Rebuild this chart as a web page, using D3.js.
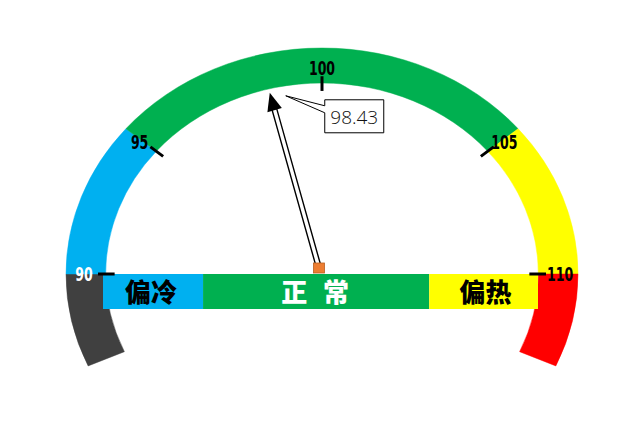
<!DOCTYPE html>
<html>
<head>
<meta charset="utf-8">
<script src="https://cdn.jsdelivr.net/npm/d3@7"></script>
<style>
  html, body { margin: 0; padding: 0; background: #fff; }
  svg { display: block; }
</style>
</head>
<body>
<div id="chart"></div>
<script>
// gauge data
const zoneBreaks = [87, 90, 95, 105, 110, 113];
const zoneColors = ['#404040', '#00B0F0', '#00B050', '#FFFF00', '#FF0000'];
const zoneAngles = [-24, 0, 40, 140, 180, 204];   // degrees from the left horizontal
const tickValues = [90, 95, 100, 105, 110];
const tickColors = ['#fff', '#000', '#000', '#000', '#000'];
const bandLabels = ['偏冷', '正 常', '偏热'];
const bandShares = [23, 52, 25];
const bandColors = ['#00B0F0', '#00B050', '#FFFF00'];
const bandTextColors = ['#000', '#fff', '#000'];
const currentValue = 98.43;

const width = 625, height = 443;
const cx = 322, cy = 274, rx = 256, ry = 226;
const innerRatio = 0.845;

const svg = d3.select('#chart').append('svg')
    .attr('width', width)
    .attr('height', height)
    .attr('viewBox', `0 0 ${width} ${height}`);

const angle = d3.scaleLinear().domain(zoneBreaks).range(zoneAngles);
const rad = deg => deg * Math.PI / 180;

// point on the (squashed) gauge ellipse
const ellipsePoint = (v, r) => {
    const t = rad(angle(v));
    return [cx - r * rx * Math.cos(t), cy - r * ry * Math.sin(t)];
};

// coloured zones
const zones = zoneColors.map((c, i) => ({ from: zoneBreaks[i], to: zoneBreaks[i + 1], color: c }));
const arc = d3.arc()
    .innerRadius(rx * innerRatio)
    .outerRadius(rx)
    .startAngle(d => rad(angle(d.from) - 90))
    .endAngle(d => rad(angle(d.to) - 90));

svg.append('g')
    .attr('transform', `translate(${cx},${cy}) scale(1,${ry / rx})`)
    .selectAll('path')
    .data(zones)
    .enter().append('path')
    .attr('d', arc)
    .attr('fill', d => d.color)
    .attr('stroke', d => d.color)
    .attr('stroke-width', 0.5);

// band under the gauge
const bandX = d3.scaleLinear().domain([0, d3.sum(bandShares)]).range([103, 538]);
const bandData = bandShares.map((s, i) => ({
    start: d3.sum(bandShares.slice(0, i)),
    end: d3.sum(bandShares.slice(0, i + 1)),
    label: bandLabels[i], color: bandColors[i], text: bandTextColors[i]
}));
const bandTop = cy, bandH = 35;
const band = svg.append('g');
band.selectAll('rect')
    .data(bandData)
    .enter().append('rect')
    .attr('x', d => bandX(d.start))
    .attr('y', bandTop)
    .attr('width', d => bandX(d.end) - bandX(d.start))
    .attr('height', bandH)
    .attr('fill', d => d.color);
// label offsets from the middle of each band piece
const bandTextShift = [-2, -1, 2];
band.selectAll('text')
    .data(bandData)
    .enter().append('text')
    .attr('x', (d, i) => (bandX(d.start) + bandX(d.end)) / 2 + bandTextShift[i])
    .attr('y', bandTop + bandH / 2 + 1)
    .attr('dy', '0.36em')
    .attr('text-anchor', 'middle')
    .attr('font-family', '"Noto Sans CJK SC", sans-serif')
    .attr('font-weight', 900)
    .attr('font-size', 26)
    .attr('word-spacing', 10)
    .style('white-space', 'pre')
    .attr('fill', d => d.text)
    .text(d => d.label);

// ticks and tick labels
const ticks = svg.append('g');
ticks.selectAll('line')
    .data(tickValues)
    .enter().append('line')
    .attr('x1', d => ellipsePoint(d, 0.81)[0])
    .attr('y1', d => ellipsePoint(d, 0.81)[1])
    .attr('x2', d => ellipsePoint(d, 0.875)[0])
    .attr('y2', d => ellipsePoint(d, 0.875)[1])
    .attr('stroke', '#000')
    .attr('stroke-width', 3);
ticks.selectAll('text')
    .data(tickValues)
    .enter().append('text')
    .attr('transform', d => `translate(${ellipsePoint(d, 0.93)[0]},${ellipsePoint(d, 0.91)[1]}) scale(0.66,1)`)
    .attr('dy', '0.36em')
    .attr('text-anchor', 'middle')
    .attr('font-family', '"DejaVu Sans", sans-serif')
    .attr('font-weight', 'bold')
    .attr('font-size', 19)
    .attr('fill', (d, i) => tickColors[i])
    .text(d => d);

// needle
const pivot = [319, 268];
const needleLen = 182, headLen = 18, headHalf = 7.5, shaftHalf = 2.4;
const theta = angle(currentValue);
const needle = svg.append('g')
    .attr('transform', `translate(${pivot[0]},${pivot[1]}) rotate(${theta + 180})`);
needle.append('path')
    .attr('d', `M0,${-shaftHalf}H${needleLen - headLen + 1}V${shaftHalf}H0Z`)
    .attr('fill', '#fff')
    .attr('stroke', '#000')
    .attr('stroke-width', 1.4);
needle.append('path')
    .attr('d', `M${needleLen - headLen},${-headHalf}L${needleLen},0L${needleLen - headLen},${headHalf}Z`)
    .attr('fill', '#000');

svg.append('rect')
    .attr('x', pivot[0] - 5.5)
    .attr('y', pivot[1] - 5)
    .attr('width', 11)
    .attr('height', 10)
    .attr('fill', '#ED7D31')
    .attr('stroke', '#B85F1F')
    .attr('stroke-width', 0.8);

// value callout
const tip = [pivot[0] - needleLen * Math.cos(rad(theta)), pivot[1] - needleLen * Math.sin(rad(theta))];
const ptr = [tip[0] + 16, tip[1] + 3];
const bx = ptr[0] + 39, by = ptr[1] + 4, bw = 59, bh = 33;
svg.append('path')
    .attr('d', `M${bx},${by}H${bx + bw}V${by + bh}H${bx}V${by + 13}L${ptr[0]},${ptr[1]}L${bx},${by + 6}Z`)
    .attr('fill', '#fff')
    .attr('stroke', '#000')
    .attr('stroke-width', 1);
svg.append('text')
    .attr('x', bx + bw / 2)
    .attr('y', by + bh / 2 + 1)
    .attr('dy', '0.36em')
    .attr('text-anchor', 'middle')
    .attr('font-family', '"Open Sans", "Noto Sans", sans-serif')
    .attr('font-weight', 300)
    .attr('font-size', 19)
    .attr('fill', '#111')
    .text(d3.format('.2f')(currentValue));
</script>
</body>
</html>
